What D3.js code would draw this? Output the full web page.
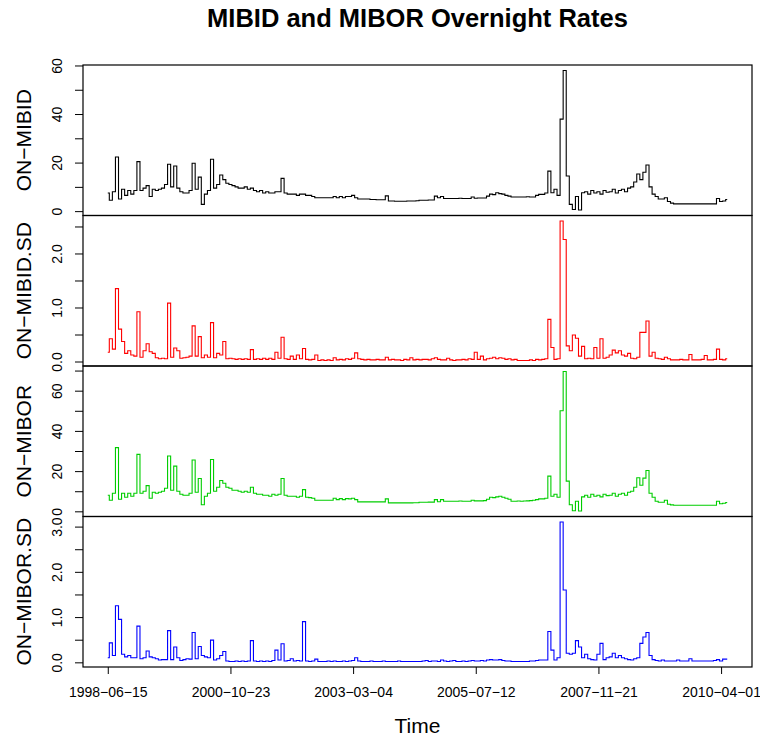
<!DOCTYPE html>
<html>
<head>
<meta charset="utf-8">
<script src="https://cdn.jsdelivr.net/npm/d3@7"></script>
<style>
  body { margin: 0; background: #fff; }
  text { font-family: "Liberation Sans", Arial, Helvetica, sans-serif; }
</style>
</head>
<body>
<svg id="chart" width="760" height="738"></svg>
<script>
// Overnight MIBID / MIBOR rates and their dispersion, one panel per series,
// drawn like R's plot.ts with a shared observation-index x axis.

// one value every SAMPLE_STEP observations, starting at observation 1
let SAMPLE_STEP = 15;

let tickObs = [1, 601, 1201, 1801, 2401, 3001];
let tickLabels = ["1998-06-15", "2000-10-23", "2003-03-04", "2005-07-12", "2007-11-21", "2010-04-01"];

let seriesNames = ["ON-MIBID", "ON-MIBID.SD", "ON-MIBOR", "ON-MIBOR.SD"];
let seriesColors = ["#000000", "#ff0000", "#00cd00", "#0000ff"];

let mibid = [
  7.5, 4.5, 8, 22.3, 5, 9, 6.5, 8.5, 7, 8.5,
  20.4, 8.5, 9.5, 10.5, 6, 9, 8.5, 9, 9.5, 11,
  19.3, 10, 18.6, 9.5, 8, 7.5, 7.5, 8.5, 19.7, 9,
  14, 2.8, 7, 8.5, 21.4, 9.5, 11, 14.9, 13, 11.5,
  11, 10.5, 10, 9.5, 9.5, 10, 9, 9.5, 8.5, 8,
  8.5, 7.5, 8, 7.5, 7.5, 8, 8, 13.5, 7.5, 7,
  7, 7, 6.5, 7, 7, 6.5, 6.5, 6, 5.5, 5.5,
  5.5, 5.5, 5.5, 5.5, 6, 5.5, 6, 5.5, 6, 6,
  6.5, 5.5, 5, 5, 5, 5, 4.8, 4.8, 4.7, 4.7,
  4.7, 6.3, 4.2, 4.2, 4.1, 4.1, 4.1, 4.1, 4.2, 4.2,
  4.2, 4.3, 4.5, 4.5, 4.5, 4.6, 4.6, 6.2, 5.5, 6,
  5.2, 5.2, 5.2, 5.2, 5.2, 5.3, 5.2, 5.2, 5.2, 5.8,
  5.3, 5.4, 5.4, 5.4, 6.2, 7, 6.8, 7.6, 7.2, 7,
  6.5, 6.2, 5.8, 5.8, 5.8, 5.8, 5.8, 5.9, 5.8, 5.8,
  6.5, 6.9, 6.9, 7.5, 16.5, 7.6, 9, 6.5, 37.9, 57.9,
  14.5, 2.8, 0.7, 6, 0.5, 7.6, 8, 7, 8.5, 7.5,
  8, 7, 8.5, 7.8, 8, 9, 7.5, 8.5, 9, 8,
  9.5, 10, 12, 15.3, 13, 16, 19, 10, 7, 6,
  5, 5, 5.5, 4, 3.3, 3, 3, 3, 3, 3,
  3, 3, 3, 3, 3, 3, 3, 3, 3, 5.2,
  4, 4.2, 4.8
];

let mibidSd = [
  0.17, 0.42, 0.23, 1.35, 0.6, 0.37, 0.15, 0.2, 0.12, 0.1,
  0.92, 0.08, 0.2, 0.33, 0.18, 0.15, 0.07, 0.05, 0.06, 0.05,
  1.08, 0.08, 0.25, 0.2, 0.06, 0.07, 0.08, 0.1, 0.66, 0.1,
  0.46, 0.07, 0.12, 0.08, 0.72, 0.07, 0.15, 0.12, 0.37, 0.05,
  0.06, 0.05, 0.04, 0.05, 0.04, 0.05, 0.04, 0.22, 0.04, 0.05,
  0.04, 0.06, 0.04, 0.06, 0.04, 0.17, 0.06, 0.45, 0.05, 0.04,
  0.1, 0.04, 0.12, 0.05, 0.24, 0.04, 0.03, 0.04, 0.12, 0.02,
  0.03, 0.02, 0.03, 0.02, 0.07, 0.03, 0.04, 0.03, 0.05, 0.04,
  0.06, 0.16, 0.05, 0.04, 0.03, 0.04, 0.03, 0.03, 0.04, 0.03,
  0.03, 0.08, 0.03, 0.04, 0.03, 0.03, 0.02, 0.04, 0.03, 0.07,
  0.03, 0.04, 0.03, 0.04, 0.04, 0.03, 0.05, 0.07, 0.04, 0.03,
  0.03, 0.06, 0.03, 0.02, 0.03, 0.03, 0.04, 0.03, 0.05, 0.04,
  0.17, 0.04, 0.1, 0.03, 0.05, 0.06, 0.08, 0.05, 0.07, 0.06,
  0.04, 0.05, 0.03, 0.04, 0.02, 0.02, 0.02, 0.02, 0.03, 0.02,
  0.04, 0.03, 0.04, 0.05, 0.78, 0.26, 0.04, 0.05, 2.6, 2.26,
  0.29, 0.2, 0.49, 0.43, 0.1, 0.28, 0.05, 0.06, 0.05, 0.26,
  0.06, 0.42, 0.06, 0.08, 0.12, 0.21, 0.16, 0.2, 0.12, 0.1,
  0.15, 0.06, 0.05, 0.08, 0.54, 0.54, 0.75, 0.1, 0.17, 0.06,
  0.05, 0.04, 0.08, 0.05, 0.03, 0.03, 0.03, 0.04, 0.03, 0.03,
  0.13, 0.03, 0.03, 0.03, 0.04, 0.11, 0.03, 0.03, 0.04, 0.23,
  0.04, 0.03, 0.05
];

let mibor = [
  8, 5.5, 9, 31.7, 6, 9, 7, 9, 7.5, 9,
  28.3, 9, 10, 12.8, 6.5, 9.5, 9, 9.5, 10, 11.5,
  27.5, 10.5, 22.5, 10, 8.5, 8, 8, 9, 25.5, 9.5,
  16.3, 3.3, 7.5, 9, 25.8, 10, 12, 15.3, 14, 12,
  11.5, 10.5, 10.5, 10, 9.5, 10, 9.5, 12, 9, 8.5,
  8.5, 8, 8, 7.5, 8.5, 8, 8.5, 16.3, 8, 7.5,
  7.5, 7.5, 7, 7.5, 10.8, 7, 6.8, 6.5, 5.5, 5.5,
  5.5, 5.5, 5.5, 5.5, 6.5, 5.8, 6.3, 5.8, 6.3, 6.2,
  6.5, 5.8, 4.7, 4.7, 4.7, 4.7, 4.7, 4.7, 4.7, 4.7,
  4.7, 6.2, 4.2, 4.2, 4.2, 4.2, 4.2, 4.2, 4.2, 4.2,
  4.3, 4.3, 4.5, 4.5, 4.5, 4.6, 4.6, 5.8, 4.8, 5.8,
  5, 5, 5, 5, 5, 5.1, 5, 5, 5, 5.5,
  5.2, 5.2, 5.2, 5.3, 6, 7, 6.8, 7.2, 7.5, 7,
  6.5, 6, 5, 5, 5.1, 5, 5.1, 5.2, 5.3, 5.5,
  5.8, 6.2, 6.2, 6.5, 17.5, 7.5, 8.5, 7, 50, 69.5,
  15, 3.3, 0.3, 5, 0.2, 7.2, 8, 7, 8.5, 7.5,
  8, 7.2, 8.5, 7.8, 8, 9, 7.5, 8.5, 9, 8,
  9.5, 10, 12, 16.7, 13, 16.5, 20.3, 9, 7, 5,
  4.5, 4.5, 5.5, 3.5, 3.2, 3, 3, 3, 3, 3,
  3, 3, 3, 3, 3, 3, 3, 3, 3, 5,
  3.8, 4, 4.4
];

let miborSd = [
  0.1, 0.43, 0.15, 1.25, 0.95, 0.18, 0.12, 0.15, 0.1, 0.1,
  0.8, 0.08, 0.1, 0.25, 0.12, 0.1, 0.08, 0.05, 0.06, 0.06,
  0.7, 0.06, 0.34, 0.1, 0.04, 0.06, 0.08, 0.07, 0.66, 0.08,
  0.35, 0.15, 0.12, 0.1, 0.49, 0.05, 0.08, 0.15, 0.24, 0.03,
  0.02, 0.02, 0.03, 0.02, 0.03, 0.02, 0.03, 0.48, 0.03, 0.02,
  0.03, 0.02, 0.03, 0.02, 0.04, 0.27, 0.05, 0.41, 0.03, 0.04,
  0.08, 0.03, 0.04, 0.03, 0.9, 0.03, 0.02, 0.03, 0.07, 0.02,
  0.02, 0.02, 0.03, 0.02, 0.03, 0.02, 0.02, 0.03, 0.02, 0.03,
  0.04, 0.1, 0.03, 0.02, 0.02, 0.02, 0.03, 0.02, 0.02, 0.02,
  0.03, 0.02, 0.02, 0.02, 0.02, 0.03, 0.02, 0.02, 0.02, 0.02,
  0.02, 0.02, 0.02, 0.03, 0.04, 0.02, 0.03, 0.03, 0.02, 0.05,
  0.03, 0.02, 0.03, 0.04, 0.02, 0.02, 0.03, 0.02, 0.03, 0.04,
  0.03, 0.03, 0.04, 0.03, 0.05, 0.06, 0.05, 0.05, 0.06, 0.04,
  0.03, 0.03, 0.02, 0.02, 0.02, 0.02, 0.02, 0.02, 0.03, 0.03,
  0.04, 0.05, 0.05, 0.05, 0.68, 0.27, 0.05, 0.1, 3.1, 1.6,
  0.2, 0.18, 0.2, 0.48, 0.34, 0.1, 0.18, 0.08, 0.06, 0.05,
  0.18, 0.42, 0.06, 0.1, 0.12, 0.2, 0.1, 0.15, 0.1, 0.08,
  0.06, 0.05, 0.08, 0.1, 0.42, 0.56, 0.66, 0.15, 0.06, 0.04,
  0.03, 0.05, 0.03, 0.03, 0.03, 0.03, 0.05, 0.03, 0.03, 0.03,
  0.08, 0.03, 0.03, 0.03, 0.03, 0.03, 0.03, 0.03, 0.04, 0.06,
  0.03, 0.07, 0.07
];

let seriesValues = [mibid, mibidSd, mibor, miborSd];

// layout (pixels)
let PLOT_LEFT = 83, PLOT_RIGHT = 752, PLOT_TOP = 65, PANEL_H = 150.5;

let svg = d3.select("#chart");

// R's "regular" axis style: data range extended by 4% on each side
function padded(lo, hi) {
  let d = (hi - lo) * 0.04;
  return [lo - d, hi + d];
}

// R draws hyphens as minus signs
function minus(s) {
  return s.replace(/-/g, "\u2212");
}

let lastObs = 1 + (mibid.length - 1) * SAMPLE_STEP;
let x = d3.scaleLinear()
  .domain(padded(1, lastObs))
  .range([PLOT_LEFT, PLOT_RIGHT]);

svg.append("text")
  .attr("x", (PLOT_LEFT + PLOT_RIGHT) / 2)
  .attr("y", 27)
  .attr("text-anchor", "middle")
  .style("font-size", "25.5px")
  .style("font-weight", "bold")
  .text("MIBID and MIBOR Overnight Rates");

seriesValues.forEach(function(values, p) {
  let top = PLOT_TOP + p * PANEL_H;
  let bottom = top + PANEL_H;
  let y = d3.scaleLinear()
    .domain(padded(d3.min(values), d3.max(values)))
    .range([bottom, top]);

  let g = svg.append("g");

  // step curve keeps the one-day spikes narrow and upright
  let line = d3.line()
    .x(function(d, i) { return x(1 + i * SAMPLE_STEP); })
    .y(function(d) { return y(d); })
    .curve(d3.curveStep);

  g.append("path")
    .datum(values)
    .attr("d", line)
    .attr("fill", "none")
    .attr("stroke", seriesColors[p])
    .attr("stroke-width", 1.1);

  g.append("rect")
    .attr("x", PLOT_LEFT)
    .attr("y", top)
    .attr("width", PLOT_RIGHT - PLOT_LEFT)
    .attr("height", PANEL_H)
    .attr("fill", "none")
    .attr("stroke", "#000")
    .attr("stroke-width", 1.2);

  // y axis: tick every step, label every second one (as R drops overlapping labels)
  let ticks = y.ticks(7);
  let step = ticks[1] - ticks[0];
  let fmt = step < 1 ? d3.format(".1f") : d3.format("d");
  let yAxis = d3.axisLeft(y)
    .tickValues(ticks)
    .tickSize(8)
    .tickFormat(function(v) { return Math.round(v / step) % 2 === 0 ? fmt(v) : ""; });

  let ga = g.append("g")
    .attr("transform", "translate(" + PLOT_LEFT + ",0)")
    .call(yAxis);
  ga.select(".domain").remove();
  ga.selectAll(".tick line").attr("stroke", "#000");
  ga.selectAll(".tick text")
    .attr("x", null)
    .attr("dy", null)
    .attr("transform", "translate(" + (62 - PLOT_LEFT) + ",0) rotate(-90)")
    .attr("text-anchor", "middle")
    .attr("fill", "#000")
    .style("font-size", "14px");
  ga.attr("font-family", null).attr("font-size", null);

  g.append("text")
    .attr("transform", "translate(31," + ((top + bottom) / 2) + ") rotate(-90)")
    .attr("text-anchor", "middle")
    .style("font-size", "21px")
    .text(minus(seriesNames[p]));
});

let xAxis = d3.axisBottom(x)
  .tickValues(tickObs)
  .tickSize(7)
  .tickFormat(function(v, i) { return minus(tickLabels[i]); });

let gx = svg.append("g")
  .attr("transform", "translate(0," + (PLOT_TOP + 4 * PANEL_H) + ")")
  .call(xAxis);
gx.attr("font-family", null).attr("font-size", null);
gx.select(".domain").remove();
gx.selectAll(".tick line").attr("stroke", "#000");
gx.selectAll(".tick text")
  .attr("y", 30)
  .attr("dy", null)
  .attr("fill", "#000")
  .style("font-size", "14px");

svg.append("text")
  .attr("x", (PLOT_LEFT + PLOT_RIGHT) / 2)
  .attr("y", 733)
  .attr("text-anchor", "middle")
  .style("font-size", "21px")
  .text("Time");
</script>
</body>
</html>
